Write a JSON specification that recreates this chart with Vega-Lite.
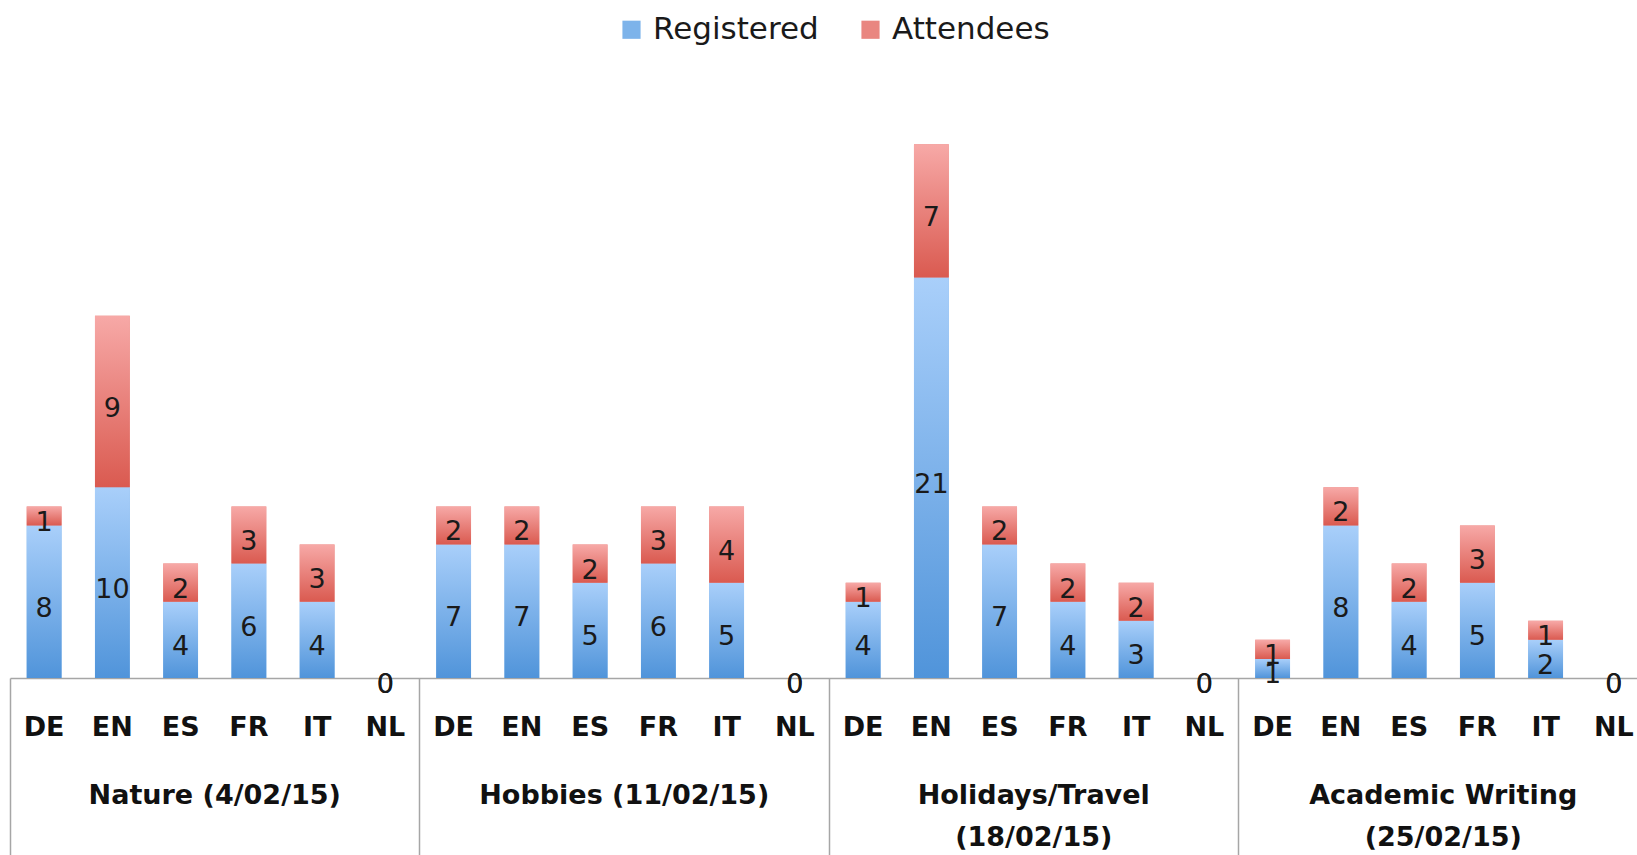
{
  "$schema": "https://vega.github.io/schema/vega-lite/v6.json",
  "width": 1638,
  "height": 572,
  "autosize": {"type": "none"},
  "padding": {"left": 10, "top": 106, "right": -11, "bottom": 177},
  "background": "white",
  "config": {"view": {"stroke": null}, "font": "DejaVu Sans"},
  "data": {"values": [
    {"id": "1|DE", "session": "Nature (4/02/15)", "lang": "DE", "series": "Registered", "value": 8},
    {"id": "1|DE", "session": "Nature (4/02/15)", "lang": "DE", "series": "Attendees", "value": 1},
    {"id": "1|EN", "session": "Nature (4/02/15)", "lang": "EN", "series": "Registered", "value": 10},
    {"id": "1|EN", "session": "Nature (4/02/15)", "lang": "EN", "series": "Attendees", "value": 9},
    {"id": "1|ES", "session": "Nature (4/02/15)", "lang": "ES", "series": "Registered", "value": 4},
    {"id": "1|ES", "session": "Nature (4/02/15)", "lang": "ES", "series": "Attendees", "value": 2},
    {"id": "1|FR", "session": "Nature (4/02/15)", "lang": "FR", "series": "Registered", "value": 6},
    {"id": "1|FR", "session": "Nature (4/02/15)", "lang": "FR", "series": "Attendees", "value": 3},
    {"id": "1|IT", "session": "Nature (4/02/15)", "lang": "IT", "series": "Registered", "value": 4},
    {"id": "1|IT", "session": "Nature (4/02/15)", "lang": "IT", "series": "Attendees", "value": 3},
    {"id": "1|NL", "session": "Nature (4/02/15)", "lang": "NL", "series": "Registered", "value": 0},
    {"id": "1|NL", "session": "Nature (4/02/15)", "lang": "NL", "series": "Attendees", "value": 0},
    {"id": "2|DE", "session": "Hobbies (11/02/15)", "lang": "DE", "series": "Registered", "value": 7},
    {"id": "2|DE", "session": "Hobbies (11/02/15)", "lang": "DE", "series": "Attendees", "value": 2},
    {"id": "2|EN", "session": "Hobbies (11/02/15)", "lang": "EN", "series": "Registered", "value": 7},
    {"id": "2|EN", "session": "Hobbies (11/02/15)", "lang": "EN", "series": "Attendees", "value": 2},
    {"id": "2|ES", "session": "Hobbies (11/02/15)", "lang": "ES", "series": "Registered", "value": 5},
    {"id": "2|ES", "session": "Hobbies (11/02/15)", "lang": "ES", "series": "Attendees", "value": 2},
    {"id": "2|FR", "session": "Hobbies (11/02/15)", "lang": "FR", "series": "Registered", "value": 6},
    {"id": "2|FR", "session": "Hobbies (11/02/15)", "lang": "FR", "series": "Attendees", "value": 3},
    {"id": "2|IT", "session": "Hobbies (11/02/15)", "lang": "IT", "series": "Registered", "value": 5},
    {"id": "2|IT", "session": "Hobbies (11/02/15)", "lang": "IT", "series": "Attendees", "value": 4},
    {"id": "2|NL", "session": "Hobbies (11/02/15)", "lang": "NL", "series": "Registered", "value": 0},
    {"id": "2|NL", "session": "Hobbies (11/02/15)", "lang": "NL", "series": "Attendees", "value": 0},
    {"id": "3|DE", "session": "Holidays/Travel (18/02/15)", "lang": "DE", "series": "Registered", "value": 4},
    {"id": "3|DE", "session": "Holidays/Travel (18/02/15)", "lang": "DE", "series": "Attendees", "value": 1},
    {"id": "3|EN", "session": "Holidays/Travel (18/02/15)", "lang": "EN", "series": "Registered", "value": 21},
    {"id": "3|EN", "session": "Holidays/Travel (18/02/15)", "lang": "EN", "series": "Attendees", "value": 7},
    {"id": "3|ES", "session": "Holidays/Travel (18/02/15)", "lang": "ES", "series": "Registered", "value": 7},
    {"id": "3|ES", "session": "Holidays/Travel (18/02/15)", "lang": "ES", "series": "Attendees", "value": 2},
    {"id": "3|FR", "session": "Holidays/Travel (18/02/15)", "lang": "FR", "series": "Registered", "value": 4},
    {"id": "3|FR", "session": "Holidays/Travel (18/02/15)", "lang": "FR", "series": "Attendees", "value": 2},
    {"id": "3|IT", "session": "Holidays/Travel (18/02/15)", "lang": "IT", "series": "Registered", "value": 3},
    {"id": "3|IT", "session": "Holidays/Travel (18/02/15)", "lang": "IT", "series": "Attendees", "value": 2},
    {"id": "3|NL", "session": "Holidays/Travel (18/02/15)", "lang": "NL", "series": "Registered", "value": 0},
    {"id": "3|NL", "session": "Holidays/Travel (18/02/15)", "lang": "NL", "series": "Attendees", "value": 0},
    {"id": "4|DE", "session": "Academic Writing (25/02/15)", "lang": "DE", "series": "Registered", "value": 1},
    {"id": "4|DE", "session": "Academic Writing (25/02/15)", "lang": "DE", "series": "Attendees", "value": 1},
    {"id": "4|EN", "session": "Academic Writing (25/02/15)", "lang": "EN", "series": "Registered", "value": 8},
    {"id": "4|EN", "session": "Academic Writing (25/02/15)", "lang": "EN", "series": "Attendees", "value": 2},
    {"id": "4|ES", "session": "Academic Writing (25/02/15)", "lang": "ES", "series": "Registered", "value": 4},
    {"id": "4|ES", "session": "Academic Writing (25/02/15)", "lang": "ES", "series": "Attendees", "value": 2},
    {"id": "4|FR", "session": "Academic Writing (25/02/15)", "lang": "FR", "series": "Registered", "value": 5},
    {"id": "4|FR", "session": "Academic Writing (25/02/15)", "lang": "FR", "series": "Attendees", "value": 3},
    {"id": "4|IT", "session": "Academic Writing (25/02/15)", "lang": "IT", "series": "Registered", "value": 2},
    {"id": "4|IT", "session": "Academic Writing (25/02/15)", "lang": "IT", "series": "Attendees", "value": 1},
    {"id": "4|NL", "session": "Academic Writing (25/02/15)", "lang": "NL", "series": "Registered", "value": 0},
    {"id": "4|NL", "session": "Academic Writing (25/02/15)", "lang": "NL", "series": "Attendees", "value": 0}
  ]},
  "layer": [
    {
      "encoding": {
        "x": {
          "field": "id", "type": "nominal", "sort": null,
          "scale": {"paddingInner": 0.49, "paddingOuter": 0.245},
          "axis": {
            "title": null, "orient": "bottom",
            "labelExpr": "split(datum.label, '|')[1]",
            "labelAngle": 0, "ticks": false, "domain": true,
            "domainColor": "#a6a6a6", "domainWidth": 1.5,
            "labelFont": "DejaVu Sans", "labelFontSize": 27, "labelFontWeight": "bold",
            "labelColor": "#111111", "labelPadding": 36, "labelLimit": 0, "labelOverlap": false, "grid": false
          }
        }
      },
      "layer": [
        {
          "mark": {"type": "bar"},
          "encoding": {
            "y": {"field": "value", "type": "quantitative", "stack": "zero", "scale": {"domain": [0, 30], "nice": false}, "axis": null},
            "order": {"field": "series", "sort": "descending"},
            "color": {
              "field": "series", "type": "nominal",
              "scale": {"domain": ["Registered", "Attendees"], "range": ["#7db3ea", "#e98680"]},
              "legend": {
                "orient": "none", "legendX": 606, "legendY": -92, "direction": "horizontal",
                "title": null, "symbolType": "square", "symbolSize": 330, "symbolStrokeWidth": 0,
                "labelFont": "DejaVu Sans", "labelFontSize": 31, "labelColor": "#1a1a1a",
                "labelOffset": 6, "columnPadding": 36, "labelLimit": 0,
                "encode": {"symbols": {"update": {"fill": [
                  {"test": "datum.value === 'Registered'", "value": {"gradient": "linear", "x1": 0, "y1": 0, "x2": 0, "y2": 1, "stops": [{"offset": 0, "color": "#a9cffa"}, {"offset": 1, "color": "#5094da"}]}},
                  {"value": {"gradient": "linear", "x1": 0, "y1": 0, "x2": 0, "y2": 1, "stops": [{"offset": 0, "color": "#f7a9a7"}, {"offset": 1, "color": "#da5a50"}]}}
                ]}}}
              }
            }
          }
        },
        {
          "transform": [
            {"stack": "value", "groupby": ["id"], "sort": [{"field": "series", "order": "descending"}], "as": ["v0", "v1"]},
            {"filter": "datum.series === 'Registered'"}
          ],
          "mark": {"type": "bar", "fill": {"gradient": "linear", "x1": 0, "y1": 0, "x2": 0, "y2": 1, "stops": [{"offset": 0, "color": "#a9cffa"}, {"offset": 1, "color": "#5094da"}]}},
          "encoding": {
            "y": {"field": "v1", "type": "quantitative", "scale": {"domain": [0, 30], "nice": false}, "axis": null},
            "y2": {"field": "v0"}
          }
        },
        {
          "transform": [
            {"stack": "value", "groupby": ["id"], "sort": [{"field": "series", "order": "descending"}], "as": ["v0", "v1"]},
            {"filter": "datum.series === 'Attendees'"}
          ],
          "mark": {"type": "bar", "fill": {"gradient": "linear", "x1": 0, "y1": 0, "x2": 0, "y2": 1, "stops": [{"offset": 0, "color": "#f7a9a7"}, {"offset": 1, "color": "#da5a50"}]}},
          "encoding": {
            "y": {"field": "v1", "type": "quantitative", "scale": {"domain": [0, 30], "nice": false}, "axis": null},
            "y2": {"field": "v0"}
          }
        },
        {
          "mark": {"type": "text", "font": "DejaVu Sans", "fontSize": 27, "color": "#1a1a1a", "baseline": "middle", "align": "center", "dy": 7},
          "encoding": {
            "y": {"field": "value", "type": "quantitative", "stack": "zero", "bandPosition": 0.5, "scale": {"domain": [0, 30], "nice": false}, "axis": null},
            "order": {"field": "series", "sort": "descending"},
            "detail": {"field": "series"},
            "text": {"field": "value", "type": "quantitative"}
          }
        }
      ]
    },
    {
      "mark": {"type": "bar", "opacity": 0},
      "encoding": {
        "x": {
          "field": "session", "type": "nominal", "sort": null,
          "scale": {"type": "band", "paddingInner": 0, "paddingOuter": 0},
          "axis": {
            "title": null, "orient": "bottom", "domain": false, "ticks": true,
            "bandPosition": 0, "tickSize": 177, "tickColor": "#a6a6a6", "tickWidth": 1.5,
            "labelPadding": -73, "labelAngle": 0,
            "labelExpr": "length(datum.label) > 20 ? split(replace(datum.label, ' (', '|('), '|') : datum.label",
            "labelLineHeight": 42, "labelFont": "DejaVu Sans", "labelFontSize": 27, "labelFontWeight": "bold",
            "labelColor": "#111111", "labelLimit": 0, "labelOverlap": false, "grid": false
          }
        }
      }
    }
  ],
  "resolve": {"scale": {"x": "independent"}}
}
